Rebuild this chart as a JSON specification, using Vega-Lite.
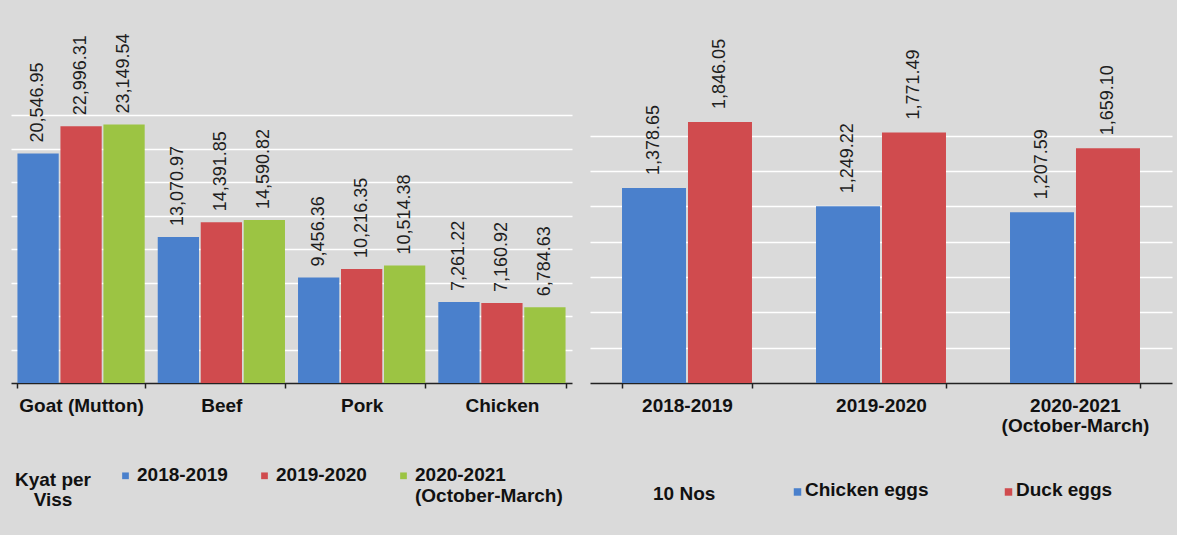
{
  "$schema": "https://vega.github.io/schema/vega-lite/v6.json",
  "background": "#dadada",
  "padding": {"left": 11, "top": 33, "right": 5, "bottom": 45},
  "config": {
    "view": {"stroke": null},
    "font": "Liberation Sans",
    "concat": {"spacing": 18},
    "axisX": {
      "title": null,
      "labelAngle": 0,
      "tickBand": "extent",
      "labelFontSize": 19,
      "labelFontWeight": "bold",
      "labelColor": "#111111",
      "domainColor": "#222222",
      "domainWidth": 1.5,
      "tickColor": "#222222",
      "tickSize": 5,
      "tickWidth": 1.5,
      "labelPadding": 8,
      "labelLineHeight": 20,
      "grid": false
    },
    "axisY": {
      "title": null,
      "labels": false,
      "ticks": false,
      "domain": false,
      "gridColor": "#ffffff",
      "gridWidth": 1.5,
      "gridOpacity": 1
    },
    "legend": {
      "orient": "none",
      "direction": "horizontal",
      "titleOrient": "left",
      "titleFontSize": 19,
      "titleFontWeight": "bold",
      "titleColor": "#111111",
      "titleAlign": "center",
      "titleBaseline": "top",
      "titleLineHeight": 20,
      "symbolType": "M-1,2H1V4H-1Z",
      "symbolSize": 45,
      "symbolStrokeWidth": 0,
      "labelFontSize": 19,
      "labelFontWeight": "bold",
      "labelColor": "#111111",
      "labelLimit": 400,
      "labelLineHeight": 20,
      "labelBaseline": "top",
      "padding": 0
    },
    "text": {"font": "Liberation Sans"}
  },
  "resolve": {"scale": {"color": "independent", "y": "independent", "x": "independent", "xOffset": "independent"}},
  "hconcat": [
    {
      "width": 561,
      "height": 268,
      "data": {
        "values": [
          {"item": "Goat (Mutton)", "year": "2018-2019", "price": 20546.95},
          {"item": "Goat (Mutton)", "year": "2019-2020", "price": 22996.31},
          {"item": "Goat (Mutton)", "year": "2020-2021 (October-March)", "price": 23149.54},
          {"item": "Beef", "year": "2018-2019", "price": 13070.97},
          {"item": "Beef", "year": "2019-2020", "price": 14391.85},
          {"item": "Beef", "year": "2020-2021 (October-March)", "price": 14590.82},
          {"item": "Pork", "year": "2018-2019", "price": 9456.36},
          {"item": "Pork", "year": "2019-2020", "price": 10216.35},
          {"item": "Pork", "year": "2020-2021 (October-March)", "price": 10514.38},
          {"item": "Chicken", "year": "2018-2019", "price": 7261.22},
          {"item": "Chicken", "year": "2019-2020", "price": 7160.92},
          {"item": "Chicken", "year": "2020-2021 (October-March)", "price": 6784.63}
        ]
      },
      "encoding": {
        "x": {
          "field": "item",
          "type": "nominal",
          "sort": ["Goat (Mutton)", "Beef", "Pork", "Chicken"],
          "scale": {"paddingInner": 0.093, "paddingOuter": 0.046}
        },
        "xOffset": {
          "field": "year",
          "type": "nominal",
          "sort": ["2018-2019", "2019-2020", "2020-2021 (October-March)"],
          "scale": {"paddingInner": 0.04}
        },
        "y": {
          "field": "price",
          "type": "quantitative",
          "scale": {"domain": [0, 24000], "nice": false},
          "axis": {"values": [3000, 6000, 9000, 12000, 15000, 18000, 21000, 24000]}
        }
      },
      "layer": [
        {
          "mark": {"type": "bar"},
          "encoding": {
            "color": {
              "field": "year",
              "type": "nominal",
              "sort": ["2018-2019", "2019-2020", "2020-2021 (October-March)"],
              "scale": {
                "domain": ["2018-2019", "2019-2020", "2020-2021 (October-March)"],
                "range": ["#4a80cc", "#d04b4e", "#9cc443"]
              },
              "legend": {
                "title": ["Kyat per", "Viss"],
                "legendX": 4,
                "legendY": 341,
                "columns": 3,
                "titlePadding": -14,
                "columnPadding": 27,
                "labelOffset": 2,
                "labelExpr": "indexof(datum.label, ' (') > 0 ? split(replace(datum.label, ' (', '|('), '|') : [datum.label, ' ']"
              }
            }
          }
        },
        {
          "mark": {"type": "text", "angle": 270, "align": "left", "baseline": "middle", "dx": 11, "fontSize": 18, "color": "#1e1e1e"},
          "encoding": {
            "text": {"field": "price", "type": "quantitative", "format": ",.2f"}
          }
        }
      ]
    },
    {
      "width": 582,
      "height": 268,
      "data": {
        "values": [
          {"period": "2018-2019", "egg": "Chicken eggs", "price": 1378.65},
          {"period": "2018-2019", "egg": "Duck eggs", "price": 1846.05},
          {"period": "2019-2020", "egg": "Chicken eggs", "price": 1249.22},
          {"period": "2019-2020", "egg": "Duck eggs", "price": 1771.49},
          {"period": "2020-2021 (October-March)", "egg": "Chicken eggs", "price": 1207.59},
          {"period": "2020-2021 (October-March)", "egg": "Duck eggs", "price": 1659.10}
        ]
      },
      "encoding": {
        "x": {
          "field": "period",
          "type": "nominal",
          "sort": ["2018-2019", "2019-2020", "2020-2021 (October-March)"],
          "scale": {"paddingInner": 0.33, "paddingOuter": 0.165},
          "axis": {"labelExpr": "split(replace(datum.label, ' (', '|('), '|')"}
        },
        "xOffset": {
          "field": "egg",
          "type": "nominal",
          "sort": ["Chicken eggs", "Duck eggs"],
          "scale": {"paddingInner": 0.03}
        },
        "y": {
          "field": "price",
          "type": "quantitative",
          "scale": {"domain": [0, 1895], "nice": false},
          "axis": {"values": [250, 500, 750, 1000, 1250, 1500, 1750]}
        }
      },
      "layer": [
        {
          "mark": {"type": "bar"},
          "encoding": {
            "color": {
              "field": "egg",
              "type": "nominal",
              "scale": {"domain": ["Chicken eggs", "Duck eggs"], "range": ["#4a80cc", "#d04b4e"]},
              "legend": {
                "title": "10 Nos",
                "titleAlign": "left",
                "legendX": 63,
                "legendY": 356,
                "columns": 2,
                "titlePadding": 72,
                "columnPadding": 70,
                "labelOffset": -2,
                "symbolSize": 56
              }
            }
          }
        },
        {
          "mark": {"type": "text", "angle": 270, "align": "left", "baseline": "middle", "dx": 13, "fontSize": 18, "color": "#1e1e1e"},
          "encoding": {
            "text": {"field": "price", "type": "quantitative", "format": ",.2f"}
          }
        }
      ]
    }
  ]
}
